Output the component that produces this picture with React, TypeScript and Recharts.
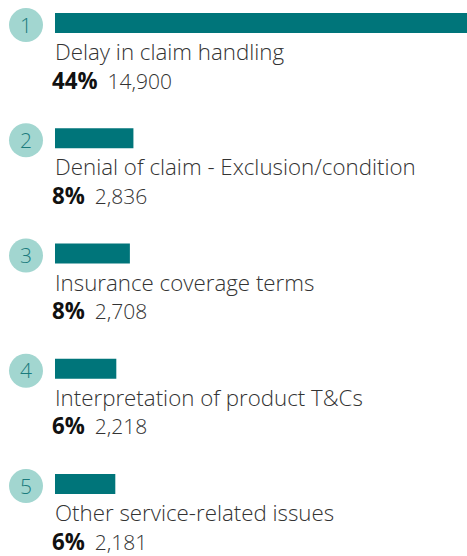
import { BarChart, Bar, XAxis, YAxis, LabelList } from "recharts";

// Top complaint reasons
const RANKS = [1, 2, 3, 4, 5];
const CATEGORIES = [
  "Delay in claim handling",
  "Denial of claim - Exclusion/condition",
  "Insurance coverage terms",
  "Interpretation of product T&Cs",
  "Other service-related issues",
];
const PERCENTS = [44, 8, 8, 6, 6];
const COUNTS = [14900, 2836, 2708, 2218, 2181];

const BAR_COLOR = "#00757a";
const CIRCLE_COLOR = "#a2d6d0";
const FONT = "'Open Sans', sans-serif";

const ROW_HEIGHT = 115.25;
const TEXT_SIZE = 22.3;

const data = CATEGORIES.map((label, i) => ({
  rank: RANKS[i],
  label,
  pct: PERCENTS[i],
  count: COUNTS[i],
}));

// Draws the rank bubble, the category name and the figures around each bar
const RowLabel = (props: any) => {
  const { x, y, index } = props;
  const row = data[index];
  return (
    <g>
      <circle cx={x - 29} cy={y + 12} r={17} fill={CIRCLE_COLOR} />
      <text
        x={x - 29}
        y={y + 19.5}
        textAnchor="middle"
        fontFamily={FONT}
        fontSize={21}
        fontWeight={300}
        fill="#1b7b7d"
      >
        {row.rank}
      </text>
      <text x={x} y={y + 47} fontFamily={FONT} fontSize={TEXT_SIZE} fontWeight={300} fill="#333">
        {row.label}
      </text>
      <text x={x - 3} y={y + 75.5} fontFamily={FONT} fontSize={TEXT_SIZE} fill="#111">
        <tspan fontWeight={700}>{row.pct}%</tspan>
        <tspan dx={10} fontSize={21} fontWeight={300} fill="#333">
          {row.count.toLocaleString("en-US")}
        </tspan>
      </text>
    </g>
  );
};

export default function App() {
  return (
    <div
      style={{
        position: "absolute",
        left: 0,
        top: 0,
        width: 467,
        height: 556,
        overflow: "hidden",
        background: "#fff",
      }}
    >
      <div style={{ marginTop: -34.6 }}>
        <BarChart
          width={467}
          height={ROW_HEIGHT * data.length + 30}
          data={data}
          layout="vertical"
          margin={{ top: 0, right: 0, bottom: 30, left: 55 }}
        >
          <XAxis type="number" domain={[0, 14900]} hide />
          <YAxis type="category" dataKey="label" hide />
          <Bar dataKey="count" fill={BAR_COLOR} barSize={20} isAnimationActive={false}>
            <LabelList dataKey="count" content={<RowLabel />} />
          </Bar>
        </BarChart>
      </div>
    </div>
  );
}
